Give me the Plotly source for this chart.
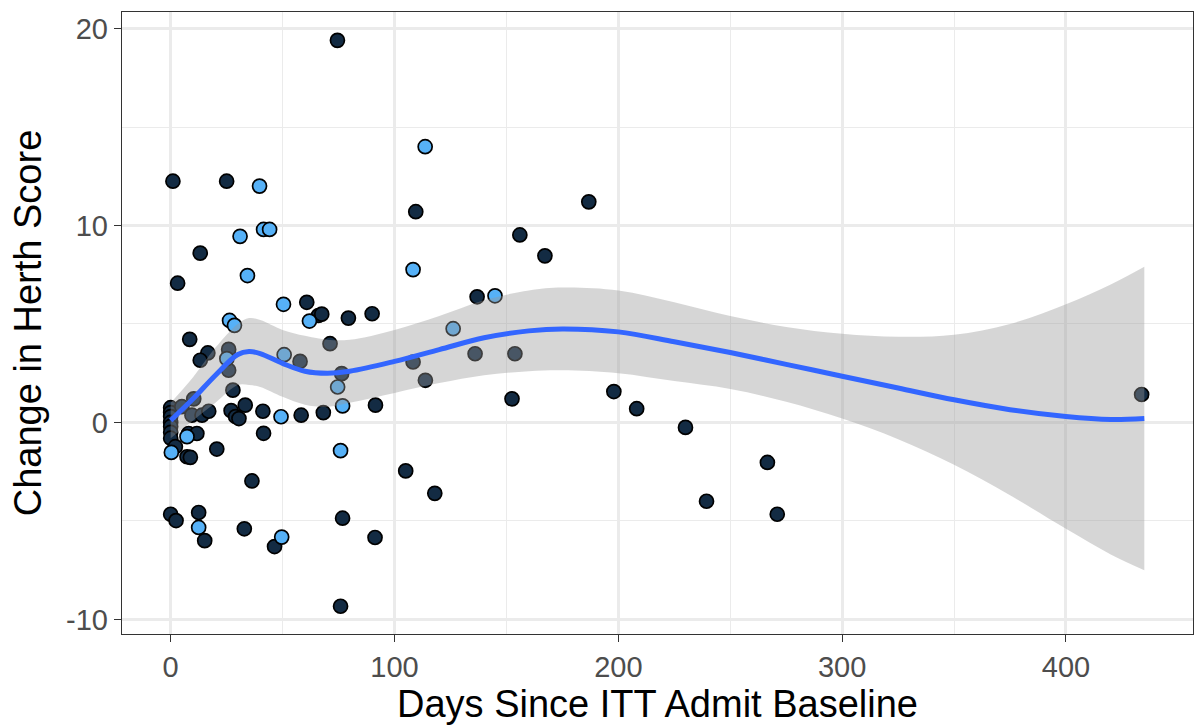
import plotly.graph_objects as go

# ---- data ----
dark_x = [0, 0, 0, 0, 0, 0, 0, 0,
          1, 25, 13.2, 3.1, 109.5, 74.5, 156, 167.2, 186.8,
          8.5, 16.6, 13.2, 25.9, 25.9, 27.8, 10.3, 5, 9.5, 14, 17,
          27, 29, 30.5, 33.3, 41.2, 58.3, 41.5,
          60.8, 66, 67.5, 79.4, 90, 71.2, 57.8, 76.4, 91.5, 68.2,
          108.3, 113.8, 105, 118, 76.8, 91.3, 75.9,
          2.1, 8, 11.7, 7.3, 8.8, 20.6, 36.3, 2.4, 12.5, 15.2, 32.9, 46.4,
          136.9, 136, 153.8, 152.5, 198, 208.2, 230, 239.4, 266.6, 271, 433.8]
dark_y = [0.75, 0.5, 0.3, 0.0, -0.2, -0.5, -0.8, -4.66,
          12.25, 12.25, 8.6, 7.07, 10.7, 19.4, 9.52, 8.46, 11.2,
          4.22, 3.53, 3.16, 3.71, 2.65, 1.64, 1.2, 0.8, 0.37, 0.37, 0.57,
          0.6, 0.3, 0.2, 0.88, 0.57, 0.37, -0.55,
          6.1, 5.43, 5.5, 5.3, 5.52, 4.0, 3.1, 2.48, 0.88, 0.5,
          3.07, 2.14, -2.46, -3.6, -4.86, -5.84, -9.33,
          -1.23, -0.56, -0.56, -1.74, -1.77, -1.35, -2.97, -4.98, -4.57, -6.0, -5.4, -6.3,
          6.38, 3.49, 3.49, 1.2, 1.57, 0.7, -0.25, -4.0, -2.03, -4.66, 1.42]

light_x = [39.7, 113.7, 31, 41.5, 44.2, 34.3, 108.3, 26.3, 28.5, 25.1, 49.3, 50.4,
           62, 74.6, 76.8, 75.9, 0.3, 7.3, 12.5, 49.6, 144.9, 126.2, 50.7]
light_y = [12.0, 14.0, 9.45, 9.8, 9.8, 7.46, 7.76, 5.18, 4.93, 3.24, 0.29, 6.0,
           5.15, 1.8, 0.84, -1.43, -1.52, -0.72, -5.33, -5.82, 6.43, 4.76, 3.44]

smooth_x = [0, 10, 20, 30, 35, 40, 50, 60, 70, 80, 100, 120, 140, 160, 175, 200,
            225, 250, 275, 300, 325, 350, 375, 400, 420, 435]
smooth_y = [0.1, 1.2, 2.4, 3.45, 3.6, 3.5, 3.0, 2.6, 2.5, 2.6, 3.1, 3.7, 4.3, 4.65, 4.75, 4.6,
            4.1, 3.55, 2.95, 2.35, 1.75, 1.15, 0.65, 0.3, 0.15, 0.2]
smooth_hi = [1.0, 2.3, 3.8, 5.0, 5.3, 5.2, 4.7, 4.4, 4.2, 4.2, 4.7, 5.4, 6.2, 6.7, 6.85, 6.7,
             6.1, 5.4, 4.85, 4.5, 4.35, 4.45, 5.0, 6.0, 7.0, 7.9]
smooth_lo = [-0.8, 0.1, 1.0, 1.9, 1.9, 1.8, 1.3, 0.9, 0.8, 1.0, 1.5, 2.0, 2.4, 2.6, 2.65, 2.5,
             2.1, 1.7, 1.05, 0.2, -0.85, -2.15, -3.7, -5.4, -6.7, -7.5]

x_ticks = [0, 100, 200, 300, 400]
x_ticklabels = ["0", "100", "200", "300", "400"]
y_ticks = [-10, 0, 10, 20]
y_ticklabels = ["-10", "0", "10", "20"]

DARK = "#132B43"
LIGHT = "#56B1F7"
FONT = "Liberation Sans, Arial, sans-serif"

fig = go.Figure()
marker_line = dict(color="black", width=1.7)
fig.add_trace(go.Scatter(x=dark_x, y=dark_y, mode="markers",
                         marker=dict(size=14, color=DARK, line=marker_line), showlegend=False))
fig.add_trace(go.Scatter(x=light_x, y=light_y, mode="markers",
                         marker=dict(size=14, color=LIGHT, line=marker_line), showlegend=False))
fig.add_trace(go.Scatter(x=smooth_x, y=smooth_lo, mode="lines", line=dict(width=0, shape="spline"),
                         showlegend=False, hoverinfo="skip"))
fig.add_trace(go.Scatter(x=smooth_x, y=smooth_hi, mode="lines", line=dict(width=0, shape="spline"),
                         fill="tonexty", fillcolor="rgba(153,153,153,0.4)", showlegend=False,
                         hoverinfo="skip"))
fig.add_trace(go.Scatter(x=smooth_x, y=smooth_y, mode="lines",
                         line=dict(color="#3366FF", width=5, shape="spline"), showlegend=False))

axis_common = dict(
    showline=True, mirror=True, linecolor="#333333", linewidth=1.4,
    ticks="outside", ticklen=7, tickcolor="#333333", tickwidth=1.4,
    showgrid=True, gridcolor="#EBEBEB", gridwidth=2.5,
    zeroline=False,
    tickfont=dict(family=FONT, size=29, color="#4D4D4D"),
)

fig.update_xaxes(
    **axis_common, range=[-21.75, 456.75], tickvals=x_ticks, ticktext=x_ticklabels,
    minor=dict(tickvals=[50, 150, 250, 350], showgrid=True, gridcolor="#EBEBEB", gridwidth=1.2, ticks=""),
    title=dict(text="Days Since ITT Admit Baseline", font=dict(family=FONT, size=38, color="black"), standoff=12),
)
fig.update_yaxes(
    **axis_common, range=[-10.74, 20.84], tickvals=y_ticks, ticktext=y_ticklabels,
    minor=dict(tickvals=[-5, 5, 15], showgrid=True, gridcolor="#EBEBEB", gridwidth=1.2, ticks=""),
    title=dict(text="Change in Herth Score", font=dict(family=FONT, size=38, color="black"), standoff=12),
)

fig.update_layout(
    width=1195, height=725,
    margin=dict(l=122, r=2, t=12, b=91),
    plot_bgcolor="white", paper_bgcolor="white",
    font=dict(family=FONT),
)

fig.write_html("out.html")
